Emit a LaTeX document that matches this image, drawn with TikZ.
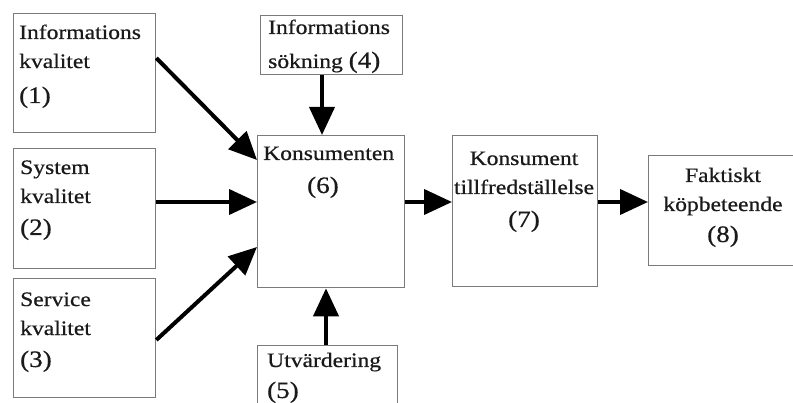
\documentclass[tikz,border=0pt]{standalone}
\usepackage{fontspec}
\setmainfont{Liberation Serif}[FakeStretch=1.15,FakeBold=0.6]
\usetikzlibrary{arrows.meta,calc}
\definecolor{boxgray}{HTML}{7A7A7A}
\definecolor{textcol}{HTML}{1A1A1A}
\newcommand{\bignum}[1]{{\fontsize{23.5}{29}\selectfont #1}}
\begin{document}
\begin{tikzpicture}[x=1pt,y=-1pt,
  box/.style={draw=boxgray, line width=1.3pt, fill=white, inner sep=0pt, anchor=north west},
  txt/.style={inner sep=0pt, align=left, anchor=base west, font=\fontsize{20.5}{29}\selectfont, text=textcol},
  ctxt/.style={txt, align=center, anchor=base},
  arr/.style={line width=4pt, -{Triangle[length=28pt,width=25pt]}}]
\useasboundingbox (0,0) rectangle (793,403);
\clip (0,0) rectangle (793,403);
\fill[white] (0,0) rectangle (793,403);
% boxes
\node[box, minimum width=142pt, minimum height=119pt] (b1) at (13,13) {};
\node[box, minimum width=142pt, minimum height=120pt] (b2) at (13,148) {};
\node[box, minimum width=142pt, minimum height=119pt] (b3) at (13,278) {};
\node[box, minimum width=142pt, minimum height=59pt] (b4) at (260,15) {};
\node[box, minimum width=147pt, minimum height=152pt] (b6) at (257,135) {};
\node[box, minimum width=140pt, minimum height=80pt] (b5) at (257,345) {};
\node[box, minimum width=145pt, minimum height=151pt] (b7) at (452,135) {};
\node[box, minimum width=155pt, minimum height=110pt] (b8) at (648,155) {};
% texts (anchor = baseline of the last line)
\node[txt] (t1) at (19,103) {Informations\\kvalitet\\[6pt]\bignum{(1)}};
\node[txt] (t2) at (20,235) {System\\kvalitet\\[3pt]\bignum{(2)}};
\node[txt] (t3) at (20,367) {Service\\kvalitet\\[3pt]\bignum{(3)}};
\node[txt] (t4) at (268,68) {Informations\\[5pt]sökning \bignum{(4)}};
\node[txt] (t6) at (263,193) {Konsumenten\\[4pt]\hspace*{44pt}\bignum{(6)}};
\node[txt] (t5) at (267,398) {Utvärdering\\[2pt]\bignum{(5)}};
\node[ctxt] (t7) at (524,227) {Konsument\\tillfredställelse\\[4pt]\bignum{(7)}};
\node[ctxt] (t8) at (723,242) {Faktiskt\\köpbeteende\\[2pt]\bignum{(8)}};
% connectors
\draw[arr] ($(b1.north east)+(0,45)$) -- ($(b6.north west)+(0,25)$);
\draw[arr] ($(b2.north east)+(0,54)$) -- ($(b6.north west)+(0,67)$);
\draw[arr] ($(b3.north east)+(0,62)$) -- ($(b6.north west)+(0,112)$);
\draw[arr] ($(b4.south west)+(62,0)$) -- ($(b6.north west)+(65,0)$);
\draw[arr] ($(b5.north west)+(69,0)$) -- ($(b6.south west)+(69,0)$);
\draw[arr] ($(b6.north east)+(0,67)$) -- ($(b7.north west)+(0,67)$);
\draw[arr] ($(b7.north east)+(0,67)$) -- ($(b8.north west)+(0,47)$);
\end{tikzpicture}
\end{document}
